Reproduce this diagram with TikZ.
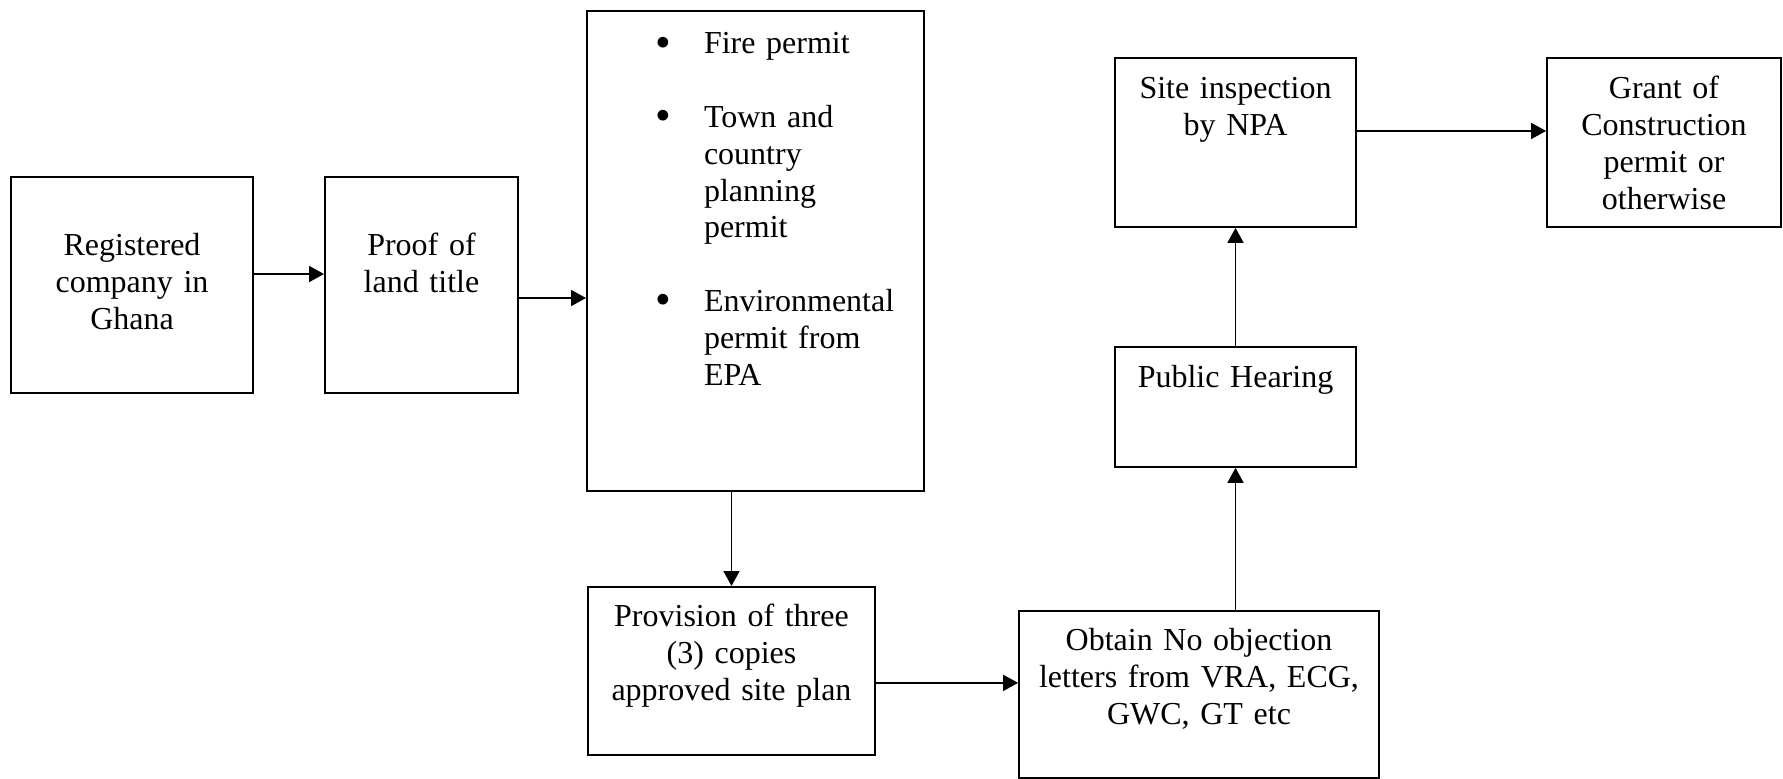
\documentclass[tikz,border=0pt]{standalone}
\usepackage{fontspec}
\setmainfont{Liberation Serif}
\usetikzlibrary{arrows.meta}
\tikzset{
  >={Triangle[length=5.6pt,width=6pt]},
  stage/.style={draw,line width=0.7pt,inner sep=0pt,align=center,anchor=north,
    font=\fontsize{12}{13.8}\selectfont},
  flow/.style={->,line width=0.6pt},
}
\newcommand{\bigbullet}{\raisebox{-1.2pt}{\scalebox{1.4}{\textbullet}}}

\begin{document}
\begin{tikzpicture}
  \useasboundingbox (0,0) rectangle (23.5,-10.267);
  % top row
  \node[stage,text width=90.75pt,text height=29.6pt,text depth=51.4pt] (reg) at (1.74,-2.32) {Registered\\company in\\Ghana};
  \node[stage,text width=72.4pt,text height=29.5pt,text depth=51.5pt] (land) at (5.555,-2.32) {Proof of\\land title};
  \node[stage,align=left,text width=126.4pt,text height=16.1pt,text depth=163.9pt] (permits) at (9.957,-0.132) {%
    \begin{tabular}[t]{@{\hspace{25.8pt}}p{18.1pt}@{}l@{}}
      \bigbullet & Fire permit\\[13.8pt]
      \bigbullet & Town and\\ & country\\ & planning\\ & permit\\[13.8pt]
      \bigbullet & Environmental\\ & permit from\\ & EPA
    \end{tabular}};
  \node[stage,text width=90.4pt,text height=15.4pt,text depth=48pt] (inspect) at (16.284,-0.751) {Site inspection\\by NPA};
  \node[stage,text width=87.8pt,text height=15.4pt,text depth=48pt] (grant) at (21.932,-0.751) {Grant of\\Construction\\permit or\\otherwise};
  % lower part
  \node[stage,text width=90.4pt,text height=15.4pt,text depth=29.6pt] (hearing) at (16.284,-4.56) {Public Hearing};
  \node[stage,text width=107.6pt,text height=15pt,text depth=48pt] (siteplan) at (9.641,-7.723) {Provision of three\\(3) copies\\approved site plan};
  \node[stage,text width=135pt,text height=15pt,text depth=47.6pt] (noobj) at (15.803,-8.04) {Obtain No objection\\letters from VRA, ECG,\\GWC, GT etc};
  % connectors
  \draw[flow] ([yshift=4.1pt]reg.east) -- ([yshift=4.1pt]reg.east -| land.west);
  \draw[flow] ([yshift=-4.9pt]land.east) -- ([yshift=-4.9pt]land.east -| permits.west);
  \draw[flow] (permits.south -| siteplan.north) -- (siteplan.north);
  \draw[flow] ([yshift=-4.5pt]siteplan.east) -- ([yshift=-4.5pt]siteplan.east -| noobj.west);
  \draw[flow] (noobj.north -| hearing.south) -- (hearing.south);
  \draw[flow] (hearing.north) -- (inspect.south);
  \draw[flow] ([yshift=4.3pt]inspect.east) -- ([yshift=4.3pt]inspect.east -| grant.west);
\end{tikzpicture}
\end{document}
